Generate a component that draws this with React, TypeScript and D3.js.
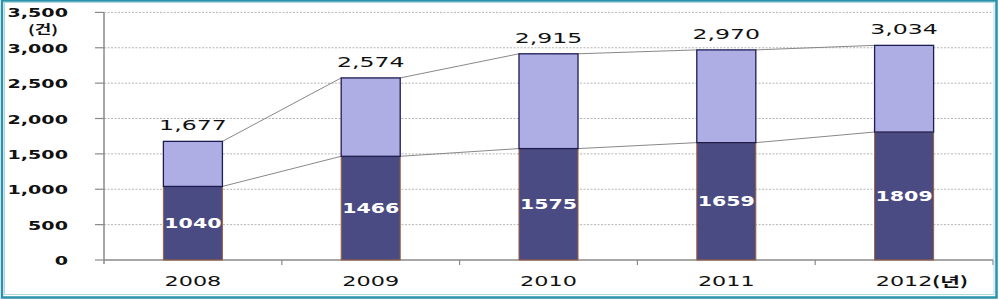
import React from "react";
import * as d3 from "d3";

const years = ["2008", "2009", "2010", "2011", "2012"];
const lowerValues = [1040, 1466, 1575, 1659, 1809];
const totalValues = [1677, 2574, 2915, 2970, 3034];
const yTicks = [0, 500, 1000, 1500, 2000, 2500, 3000, 3500];
const yUnit = "(건)";
const xUnit = "(년)";

const W = 1000;
const H = 300;
const FONT = "'DejaVu Sans', Verdana, sans-serif";
const KFONT = "'Noto Sans CJK KR', 'DejaVu Sans', sans-serif";

export default function App() {
  const x = d3.scaleBand<string>().domain(years).range([104, 993]).paddingInner(0.668).paddingOuter(0.334);
  const y = d3.scaleLinear().domain([0, 3500]).range([260, 12.4]);
  const bw = x.bandwidth();
  const fmt = d3.format(",");
  const step = x.step();

  const lowerLine = years.slice(0, -1).map((yr, i) => ({
    x1: (x(yr) as number) + bw, y1: y(lowerValues[i]),
    x2: x(years[i + 1]) as number, y2: y(lowerValues[i + 1]),
  }));
  const totalLine = years.slice(0, -1).map((yr, i) => ({
    x1: (x(yr) as number) + bw, y1: y(totalValues[i]),
    x2: x(years[i + 1]) as number, y2: y(totalValues[i + 1]),
  }));

  return (
    <svg width={W} height={H} style={{ position: "absolute", left: 0, top: 0, background: "#fff" }}>
      <rect x={0} y={0} width={W} height={H} fill="#fff" />
      {yTicks.filter((t) => t > 0).map((t) => (
        <line key={"g" + t} x1={104} x2={993} y1={y(t)} y2={y(t)} stroke="#b5b5b5" strokeWidth={1} strokeDasharray="2,1.5" />
      ))}
      <line x1={104} x2={104} y1={y(3500)} y2={264} stroke="#8a8a8a" strokeWidth={1.5} />
      {yTicks.map((t) => (
        <g key={"t" + t}>
          <line x1={95} x2={104} y1={y(t)} y2={y(t)} stroke="#8a8a8a" strokeWidth={1.2} />
          <text transform={`translate(68,${y(t) + 5}) scale(1.68,1)`} textAnchor="end" fontFamily={FONT} fontWeight="bold" fontSize={11.4} fill="#111">
            {fmt(t)}
          </text>
        </g>
      ))}
      <text transform={`translate(43,34) scale(1.5,1)`} textAnchor="middle" fontFamily={KFONT} fontWeight="bold" fontSize={12} fill="#111">
        {yUnit}
      </text>
      <line x1={104} x2={993} y1={260} y2={260} stroke="#8a8a8a" strokeWidth={1.5} />
      {years.map((yr, i) => (
        <line key={"xt" + yr} x1={104 + step * (i + 1)} x2={104 + step * (i + 1)} y1={260} y2={265} stroke="#8a8a8a" strokeWidth={1.2} />
      ))}
      {lowerLine.concat(totalLine).map((l, i) => (
        <line key={"c" + i} x1={l.x1} y1={l.y1} x2={l.x2} y2={l.y2} stroke="#7a7a7a" strokeWidth={0.9} />
      ))}
      {years.map((yr, i) => {
        const x0 = x(yr) as number;
        return (
          <g key={"b" + yr}>
            <rect x={x0} y={y(lowerValues[i])} width={bw} height={y(0) - y(lowerValues[i])} fill="#4b4b84" stroke="#a0603a" strokeWidth={1} />
            <rect x={x0} y={y(totalValues[i])} width={bw} height={y(lowerValues[i]) - y(totalValues[i])} fill="#aeaee4" stroke="#1c1c52" strokeWidth={1.3} />
            <text transform={`translate(${x0 + bw / 2},${(y(0) + y(lowerValues[i])) / 2 + 5}) scale(1.5,1)`} textAnchor="middle" fontFamily={FONT} fontWeight="bold" fontSize={13.7} fill="#fff">
              {lowerValues[i]}
            </text>
            <text transform={`translate(${x0 + bw / 2},${y(totalValues[i]) - 11}) scale(1.64,1)`} textAnchor="middle" fontFamily={FONT} fontSize={14.4} fill="#111">
              {fmt(totalValues[i])}
            </text>
            <text transform={`translate(${x0 + bw / 2},286) scale(1.63,1)`} textAnchor="middle" fontFamily={FONT} fontSize={13.7} fill="#111">
              {yr}
            </text>
            {i === years.length - 1 && (
              <text transform={`translate(${x0 + bw / 2 + 28},286) scale(1.65,1)`} textAnchor="start" fontFamily={KFONT} fontWeight="bold" fontSize={13} fill="#111">
                {xUnit}
              </text>
            )}
          </g>
        );
      })}
      <rect x={2} y={0.5} width={994.5} height={297} fill="none" stroke="#2a93ab" strokeWidth={2.5} />
      <rect x={4.5} y={2.5} width={989.5} height={292} fill="none" stroke="#9fd0dc" strokeWidth={0.8} />
    </svg>
  );
}
